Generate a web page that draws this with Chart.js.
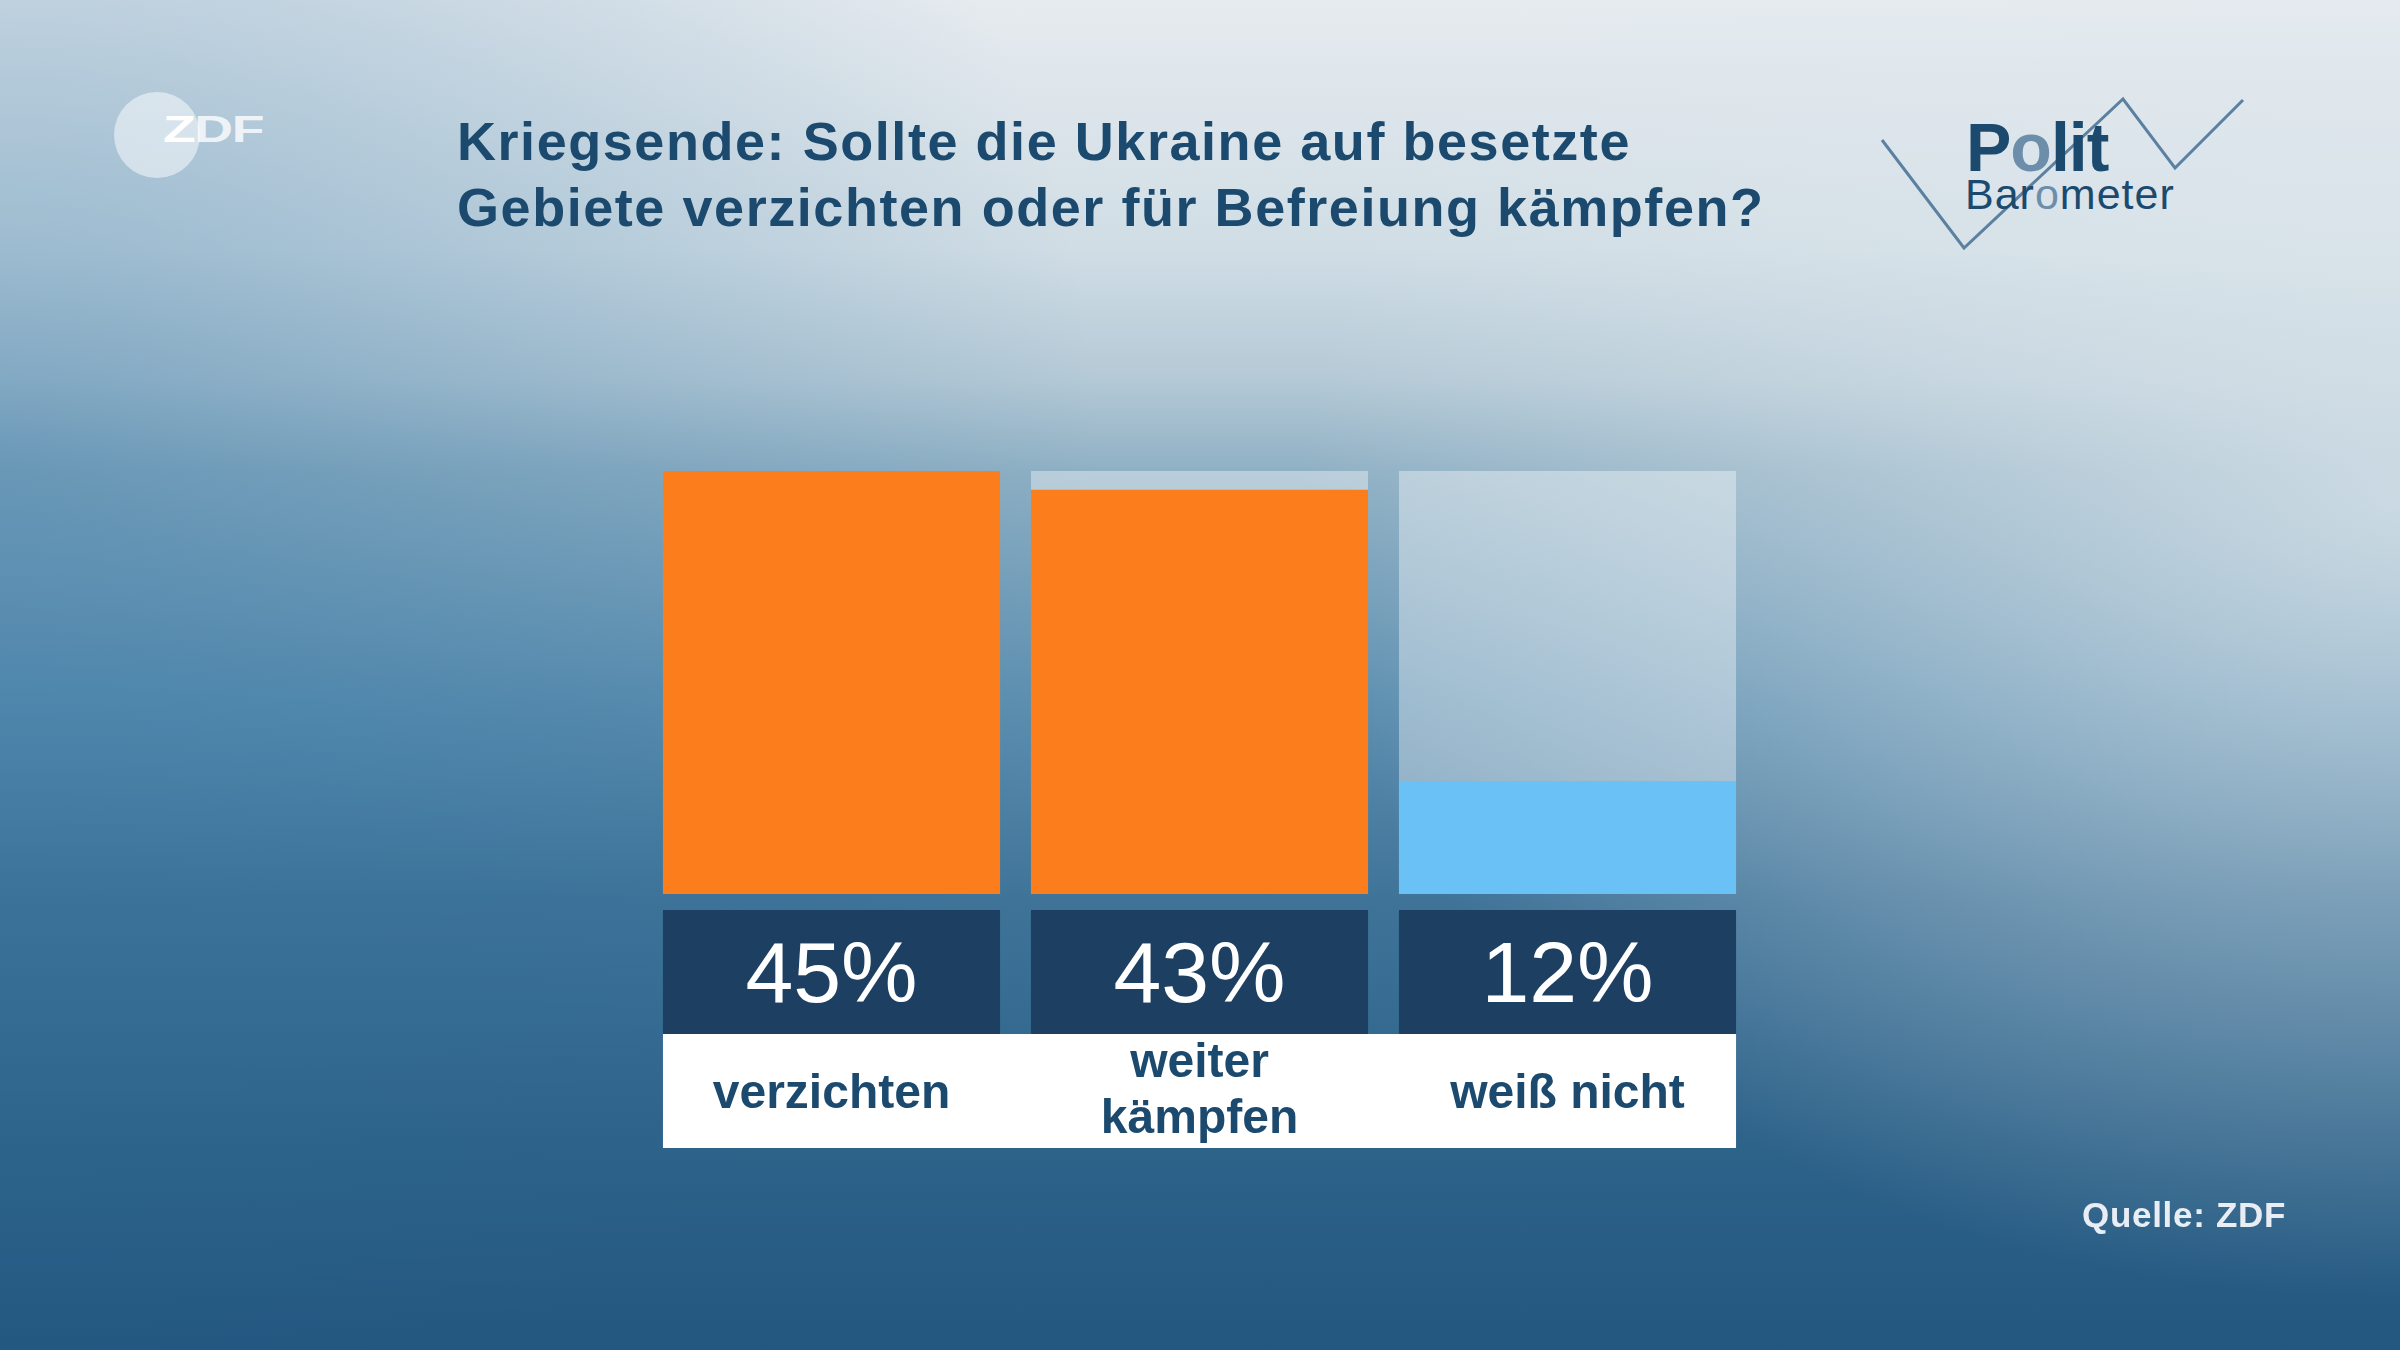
<!DOCTYPE html>
<html lang="de">
<head>
<meta charset="utf-8">
<script src="https://cdn.jsdelivr.net/npm/chart.js@4.4.1/dist/chart.umd.min.js"></script>
<style>
  html, body { margin:0; padding:0; width:2400px; height:1350px; overflow:hidden; }
  #wrap {
    position:relative; width:2400px; height:1350px;
    background:
      radial-gradient(ellipse 1100px 800px at 2400px 500px, rgba(225,233,238,0.75) 0%, rgba(225,233,238,0) 100%),
      radial-gradient(ellipse 1100px 1000px at 0px 450px, rgba(40,110,160,0.38) 0%, rgba(40,110,160,0) 100%),
      linear-gradient(180deg, #e6ebef 0px, #d0dde5 250px, #b4c9d6 380px, #8fb0c4 471px, #5d8fb0 700px, #3f7398 900px, #2d6289 1150px, #235780 1350px);
    font-family: "Liberation Sans", Arial, sans-serif;
  }
  #chartBox { position:absolute; left:0; top:0; width:2400px; height:1350px; }
  .abs { position:absolute; white-space:nowrap; }
  #title { left:457px; top:107.5px; font-size:54px; line-height:66px; font-weight:bold; color:#1b4a6e; letter-spacing:1.55px; }
  #source { left:2082px; top:1197px; font-size:35px; line-height:35px; font-weight:bold; color:#e9eef4; letter-spacing:0.7px; }
  #polit { left:1966px; top:113px; font-size:68px; line-height:68px; font-weight:bold; color:#1b4a6e; letter-spacing:-1px; }
  #baro { left:1965px; top:173px; font-size:43px; line-height:43px; color:#1b4a6e; letter-spacing:1px; }
  .lite { color:#6d8eaa; }
  #zdfCircle { left:114px; top:92px; width:86px; height:86px; border-radius:50%; background:rgba(255,255,255,0.5); }
  #zdfText { left:163px; top:111px; font-size:37px; line-height:37px; font-weight:bold; color:rgba(255,255,255,0.8); transform:scaleX(1.45); transform-origin:left top; letter-spacing:-1px; }
  #zdfText .z { color:#ffffff; }
  #zig { position:absolute; left:0; top:0; }
</style>
</head>
<body>
<div id="wrap">
  <div class="abs" id="zdfCircle"></div>
  <div class="abs" id="zdfText"><span class="z">Z</span>DF</div>
  <div class="abs" id="title">Kriegsende: Sollte die Ukraine auf besetzte<br>Gebiete verzichten oder für Befreiung kämpfen?</div>
  <svg id="zig" width="2400" height="300"><polyline points="1882,140 1964,248 2123,99 2175,168 2243,100" fill="none" stroke="#5b80a0" stroke-width="3"/></svg>
  <div class="abs" id="polit">P<span class="lite">o</span>lit</div>
  <div class="abs" id="baro">Bar<span class="lite">o</span>meter</div>
  <div id="chartBox"><canvas id="c"></canvas></div>
  <div class="abs" id="source">Quelle: ZDF</div>
</div>
<script>
// ---- data ----
const categories = ["verzichten", "weiter kämpfen", "weiß nicht"];
const labelLines = [["verzichten"], ["weiter", "kämpfen"], ["weiß nicht"]];
const values = [45, 43, 12];
const scaleMax = 45;
const barColors = ["#fb7d1c", "#fb7d1c", "#69c1f5"];
const trackValues = categories.map(() => scaleMax);

const boxPlugin = {
  id: 'boxes',
  afterDatasetsDraw(chart) {
    const ctx = chart.ctx;
    const meta = chart.getDatasetMeta(1);
    const bottom = chart.chartArea.bottom;
    ctx.save();
    let firstLeft = null, lastRight = null;
    meta.data.forEach((bar, i) => {
      const w = bar.width;
      const left = bar.x - w / 2;
      if (firstLeft === null) firstLeft = left;
      lastRight = left + w;
      ctx.fillStyle = '#1c3f62';
      ctx.fillRect(left, bottom + 16, w, 124);
      ctx.fillStyle = '#ffffff';
      ctx.font = '86px "Liberation Sans", Arial, sans-serif';
      ctx.textAlign = 'center';
      ctx.textBaseline = 'alphabetic';
      ctx.fillText(values[i] + '%', bar.x, bottom + 108);
    });
    ctx.fillStyle = '#ffffff';
    ctx.fillRect(firstLeft, bottom + 140, lastRight - firstLeft, 114);
    ctx.fillStyle = '#1b4a6e';
    ctx.font = 'bold 48px "Liberation Sans", Arial, sans-serif';
    ctx.textAlign = 'center';
    meta.data.forEach((bar, i) => {
      const lines = labelLines[i];
      if (lines.length === 1) {
        ctx.fillText(lines[0], bar.x, bottom + 214);
      } else {
        ctx.fillText(lines[0], bar.x, bottom + 183);
        ctx.fillText(lines[1], bar.x, bottom + 239);
      }
    });
    ctx.restore();
  }
};

new Chart(document.getElementById('c'), {
  type: 'bar',
  data: {
    labels: categories,
    datasets: [
      { label: 'max', data: trackValues, backgroundColor: 'rgba(255,255,255,0.38)', grouped: false, order: 2, borderWidth: 0 },
      { label: 'Anteil', data: values, backgroundColor: barColors, grouped: false, order: 1, borderWidth: 0 }
    ]
  },
  options: {
    responsive: true,
    maintainAspectRatio: false,
    animation: false,
    devicePixelRatio: 1,
    layout: { padding: { left: 647.5, right: 648.5, top: 471, bottom: 456 } },
    datasets: { bar: { barPercentage: 0.916, categoryPercentage: 1 } },
    scales: {
      x: { display: false },
      y: { display: false, min: 0, max: scaleMax }
    },
    plugins: { legend: { display: false }, tooltip: { enabled: false }, title: { display: false } }
  },
  plugins: [boxPlugin]
});
</script>
</body>
</html>
